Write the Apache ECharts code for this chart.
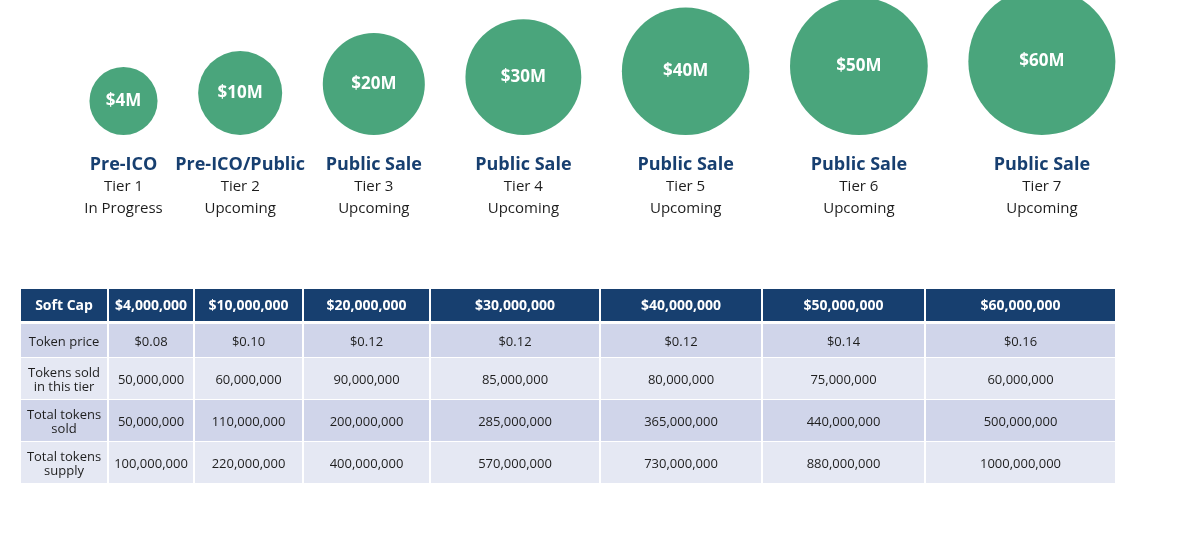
<!DOCTYPE html>
<html>
<head>
<meta charset="utf-8">
<script src="https://cdn.jsdelivr.net/npm/echarts@6/dist/echarts.min.js"></script>
<style>
  html, body { margin: 0; padding: 0; background: #ffffff; }
  #chart { width: 1182px; height: 535px; }
</style>
</head>
<body>
<div id="chart"></div>
<script>
// ---------------- DATA ----------------
const capM = [4, 10, 20, 30, 40, 50, 60];
const saleType = ['Pre-ICO', 'Pre-ICO/Public', 'Public Sale', 'Public Sale', 'Public Sale', 'Public Sale', 'Public Sale'];
const tierLabels = ['Tier 1', 'Tier 2', 'Tier 3', 'Tier 4', 'Tier 5', 'Tier 6', 'Tier 7'];
const tierStatus = ['In Progress', 'Upcoming', 'Upcoming', 'Upcoming', 'Upcoming', 'Upcoming', 'Upcoming'];

const rowLabels = ['Soft Cap', 'Token price', 'Tokens sold\nin this tier', 'Total tokens\nsold', 'Total tokens\nsupply'];
const softCap = ['$4,000,000', '$10,000,000', '$20,000,000', '$30,000,000', '$40,000,000', '$50,000,000', '$60,000,000'];
const tokenPrice = ['$0.08', '$0.10', '$0.12', '$0.12', '$0.12', '$0.14', '$0.16'];
const tokensSoldTier = ['50,000,000', '60,000,000', '90,000,000', '85,000,000', '80,000,000', '75,000,000', '60,000,000'];
const totalSold = ['50,000,000', '110,000,000', '200,000,000', '285,000,000', '365,000,000', '440,000,000', '500,000,000'];
const totalSupply = ['100,000,000', '220,000,000', '400,000,000', '570,000,000', '730,000,000', '880,000,000', '1000,000,000'];

// ---------------- LAYOUT / STYLE ----------------
const FONT = '"Open Sans", "Noto Sans", sans-serif';
const GREEN = '#4aa57c';
const TITLE_BLUE = '#173f70';
const ROW_FILL = ['#173f6f', '#d0d5ea', '#e5e8f3', '#d0d5ea', '#e5e8f3'];
const COL_W = [87, 86, 109, 127, 170, 162, 163, 190];
const ROW_SPAN = [[0, 32], [35, 68], [69, 110], [111, 152], [153, 194]];
const BUBBLE_GAP = 40.6;
const FIRST_X = 123.5;

// bubble radius scale (pixels) from the soft cap value
function radius(v) { return 20.3 + 6.87 * Math.sqrt(v); }

// bubble centres laid out from their sizes
const bubbleX = [];
capM.forEach((v, i) => {
  if (i === 0) bubbleX.push(FIRST_X);
  else bubbleX.push(bubbleX[i - 1] + radius(capM[i - 1]) + radius(v) + BUBBLE_GAP);
});

const colEdges = [0];
COL_W.forEach(w => colEdges.push(colEdges[colEdges.length - 1] + w));
const tableW = colEdges[colEdges.length - 1];

const tableRows = [softCap, tokenPrice, tokensSoldTier, totalSold, totalSupply];
const cells = [];
tableRows.forEach((row, r) => {
  cells.push([0, r, rowLabels[r]]);
  row.forEach((txt, c) => cells.push([c + 1, r, txt]));
});

const chart = echarts.init(document.getElementById('chart'), null, { renderer: 'canvas' });

const option = {
  backgroundColor: '#ffffff',
  animation: false,
  grid: [
    { left: 0, top: 0, width: 1182, height: 135, outerBoundsMode: 'none' },
    { left: 21, top: 289, width: tableW, height: 194, outerBoundsMode: 'none' }
  ],
  xAxis: [
    { type: 'value', gridIndex: 0, min: 0, max: 1182, show: false },
    { type: 'value', gridIndex: 1, min: 0, max: tableW, show: false }
  ],
  yAxis: [
    { type: 'value', gridIndex: 0, min: 0, max: 135, show: false },
    { type: 'value', gridIndex: 1, min: 0, max: 194, inverse: true, show: false }
  ],
  series: [
    {
      type: 'scatter',
      xAxisIndex: 0, yAxisIndex: 0,
      clip: false,
      symbol: 'circle',
      data: capM.map((v, i) => [bubbleX[i], radius(v), v]),
      symbolSize: (val) => 2 * radius(val[2]),
      itemStyle: { color: GREEN, opacity: 1 },
      label: {
        show: true,
        position: 'inside',
        formatter: (p) => '$' + p.value[2] + 'M',
        color: '#ffffff',
        fontFamily: FONT,
        fontWeight: 'bold',
        fontSize: 17
      },
      emphasis: { disabled: true }
    },
    {
      type: 'scatter',
      xAxisIndex: 0, yAxisIndex: 0,
      clip: false,
      symbolSize: 0,
      itemStyle: { opacity: 1, color: '#ffffff' },
      data: capM.map((v, i) => [bubbleX[i], 0, i]),
      label: {
        show: true,
        position: 'bottom',
        distance: 19,
        opacity: 1,
        formatter: (p) => {
          const i = p.value[2];
          return '{a|' + saleType[i] + '}\n{b|' + tierLabels[i] + '}\n{b|' + tierStatus[i] + '}';
        },
        rich: {
          a: { fontFamily: FONT, fontWeight: 'bold', fontSize: 18, color: TITLE_BLUE, lineHeight: 22, align: 'center' },
          b: { fontFamily: FONT, fontSize: 15, color: '#1e1e1e', lineHeight: 21.5, align: 'center' }
        }
      },
      emphasis: { disabled: true }
    },
    {
      type: 'custom',
      xAxisIndex: 1, yAxisIndex: 1,
      data: cells,
      renderItem: (params, api) => {
        const c = api.value(0);
        const r = api.value(1);
        const txt = cells[params.dataIndex][2];
        const p0 = api.coord([colEdges[c], ROW_SPAN[r][0]]);
        const p1 = api.coord([colEdges[c + 1], ROW_SPAN[r][1]]);
        const lx = p0[0] + (c > 0 ? 1 : 0);
        const rx = p1[0] - (c < COL_W.length - 1 ? 1 : 0);
        const isHead = r === 0;
        return {
          type: 'group',
          children: [
            {
              type: 'rect',
              shape: { x: lx, y: p0[1], width: rx - lx, height: p1[1] - p0[1] },
              style: { fill: ROW_FILL[r] }
            },
            {
              type: 'text',
              x: (lx + rx) / 2,
              y: (p0[1] + p1[1]) / 2 + (isHead ? 1.5 : 1.5),
              style: {
                text: txt,
                fill: isHead ? '#ffffff' : '#1e1e1e',
                fontFamily: FONT,
                fontWeight: isHead ? 'bold' : 'normal',
                fontSize: isHead ? 14 : 13,
                lineHeight: 14,
                align: 'center',
                verticalAlign: 'middle'
              }
            }
          ]
        };
      }
    }
  ]
};

chart.setOption(option);
</script>
</body>
</html>
